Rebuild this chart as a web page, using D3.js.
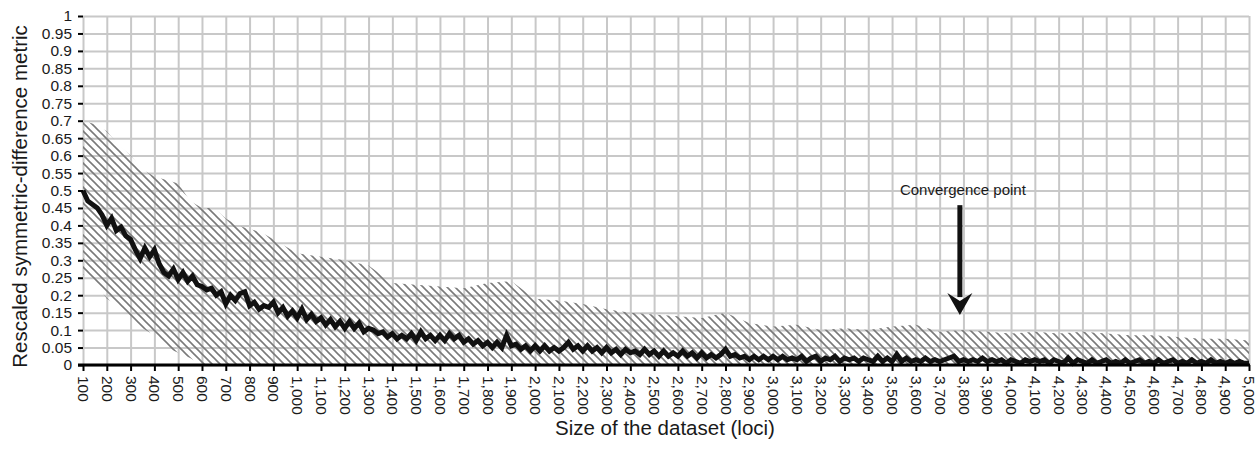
<!DOCTYPE html>
<html lang="en">
<head>
<meta charset="UTF-8">
<title>Convergence</title>
<script src="https://d3js.org/d3.v7.min.js"></script>
<style>
  body { margin: 0; background: #fff; }
  svg { font-family: "Liberation Sans", Arial, sans-serif; }
  .grid .tick line { stroke: #c8c8c8; stroke-width: 2; }
  .grid path { stroke-width: 0; }
</style>
</head>
<body>
<script>
// mean metric, one value every 20 loci starting at 100
var metricStart = 100, metricStep = 20;
var metric = [
  0.50, 0.47, 0.46, 0.45, 0.43, 0.40, 0.42, 0.385, 0.395, 0.37, 0.36,
  0.33, 0.305, 0.335, 0.31, 0.33, 0.29, 0.265, 0.255, 0.275, 0.245,
  0.265, 0.24, 0.255, 0.23, 0.225, 0.215, 0.22, 0.2, 0.21, 0.175,
  0.2, 0.185, 0.205, 0.21, 0.17, 0.18, 0.16, 0.17, 0.165, 0.18,
  0.15, 0.165, 0.14, 0.155, 0.135, 0.16, 0.13, 0.145, 0.125, 0.135,
  0.115, 0.13, 0.11, 0.125, 0.105, 0.125, 0.105, 0.12, 0.095, 0.105,
  0.10, 0.09, 0.095, 0.08, 0.09, 0.075, 0.085, 0.075, 0.09, 0.07,
  0.095, 0.075, 0.085, 0.07, 0.085, 0.07, 0.09, 0.075, 0.085, 0.065,
  0.075, 0.06, 0.07, 0.055, 0.065, 0.05, 0.065, 0.05, 0.085, 0.055,
  0.06, 0.045, 0.055, 0.04, 0.055, 0.04, 0.055, 0.04, 0.05, 0.04,
  0.05, 0.065, 0.045, 0.055, 0.04, 0.055, 0.04, 0.05, 0.035, 0.05,
  0.035, 0.045, 0.03, 0.045, 0.035, 0.04, 0.03, 0.045, 0.03, 0.04,
  0.025, 0.04, 0.025, 0.035, 0.025, 0.04, 0.025, 0.035, 0.02, 0.035,
  0.02, 0.03, 0.02, 0.03, 0.045, 0.025, 0.03, 0.02, 0.025, 0.015,
  0.025, 0.015, 0.025, 0.015, 0.025, 0.015, 0.025, 0.015, 0.02, 0.015,
  0.025, 0.01, 0.02, 0.025, 0.01, 0.02, 0.015, 0.025, 0.01, 0.02,
  0.015, 0.02, 0.01, 0.02, 0.015, 0.01, 0.025, 0.01, 0.02, 0.01,
  0.03, 0.01, 0.02, 0.01, 0.015, 0.01, 0.02, 0.01, 0.015, 0.01,
  0.015, 0.02, 0.025, 0.01, 0.015, 0.01, 0.015, 0.01, 0.02, 0.01,
  0.015, 0.01, 0.015, 0.005, 0.015, 0.01, 0.005, 0.015, 0.01, 0.015,
  0.01, 0.015, 0.005, 0.015, 0.01, 0.005, 0.02, 0.005, 0.015, 0.01,
  0.005, 0.015, 0.005, 0.01, 0.015, 0.005, 0.01, 0.005, 0.015, 0.005,
  0.01, 0.015, 0.005, 0.01, 0.005, 0.015, 0.005, 0.01, 0.015, 0.005,
  0.01, 0.005, 0.015, 0.005, 0.01, 0.005, 0.015, 0.005, 0.01, 0.005,
  0.01, 0.005, 0.01, 0.005, 0.005
];

// spread of the metric (hatched band)
var bandLoci = [100, 150, 200, 250, 300, 350, 400, 450, 500, 550, 600, 650, 700, 750, 800,
  850, 900, 950, 1000, 1100, 1200, 1300, 1350, 1400, 1500, 1600, 1700, 1800, 1900, 2000,
  2100, 2200, 2300, 2400, 2500, 2600, 2700, 2800, 2900, 3000, 3100, 3200, 3300, 3400, 3500,
  3600, 3700, 3800, 3900, 4000, 4100, 4200, 4300, 4400, 4500, 4600, 4700, 4800, 4900, 5000];
var bandUpper = [0.70, 0.69, 0.67, 0.63, 0.60, 0.56, 0.54, 0.53, 0.52, 0.47, 0.45, 0.45, 0.42, 0.40, 0.39,
  0.38, 0.36, 0.34, 0.32, 0.31, 0.30, 0.285, 0.26, 0.235, 0.23, 0.225, 0.22, 0.235, 0.24, 0.19,
  0.185, 0.175, 0.16, 0.15, 0.145, 0.14, 0.135, 0.15, 0.12, 0.11, 0.115, 0.10, 0.105, 0.10, 0.11,
  0.115, 0.095, 0.10, 0.095, 0.09, 0.095, 0.09, 0.095, 0.09, 0.085, 0.085, 0.08, 0.075, 0.075, 0.07];
var bandLower = [0.26, 0.24, 0.19, 0.17, 0.14, 0.105, 0.085, 0.05, 0.035, 0.02, 0, 0, 0, 0, 0,
  0, 0, 0, 0, 0, 0, 0, 0, 0, 0, 0, 0, 0, 0, 0,
  0, 0, 0, 0, 0, 0, 0, 0, 0, 0, 0, 0, 0, 0, 0,
  0, 0, 0, 0, 0, 0, 0, 0, 0, 0, 0, 0, 0, 0, 0];

var xTicks = d3.range(100, 5001, 100);
var yTicks = d3.range(0, 21).map(function(i) { return i * 0.05; });
var note = {text: "Convergence point", loci: 3785, top: 0.458, tip: 0.143, label: 0.487};

var W = 1257, H = 449;
var x = d3.scaleLinear().domain([100, 5000]).range([83, 1249]);
var y = d3.scaleLinear().domain([0, 1]).range([365, 16]);

var svg = d3.select("body").append("svg").attr("width", W).attr("height", H);
svg.append("rect").attr("width", W).attr("height", H).attr("fill", "#fff");

var defs = svg.append("defs");
var pat = defs.append("pattern").attr("id", "hatch")
  .attr("patternUnits", "userSpaceOnUse").attr("width", 8).attr("height", 8);
pat.append("path").attr("d", "M0,0L8,8M-4,4L4,12M4,-4L12,4")
  .attr("stroke", "#7a7a7a").attr("stroke-width", 1.6);

// grid
svg.append("g").attr("class", "grid")
  .attr("transform", "translate(83,0)")
  .call(d3.axisLeft(y).tickValues(yTicks).tickSize(-(1249 - 83)).tickFormat(""));
svg.append("g").attr("class", "grid")
  .attr("transform", "translate(0,365)")
  .call(d3.axisBottom(x).tickValues(xTicks).tickSize(-(365 - 16)).tickFormat(""));

// band
var band = bandLoci.map(function(d, i) { return {l: d, hi: bandUpper[i], lo: bandLower[i]}; });
svg.append("path").datum(band)
  .attr("fill", "url(#hatch)")
  .attr("d", d3.area()
    .x(function(d) { return x(d.l); })
    .y0(function(d) { return y(d.lo); })
    .y1(function(d) { return y(d.hi); }));

// mean line
var pts = metric.map(function(v, i) { return {l: metricStart + i * metricStep, v: v}; });
svg.append("path").datum(pts)
  .attr("fill", "none").attr("stroke", "#111").attr("stroke-width", 5)
  .attr("stroke-linejoin", "miter")
  .attr("d", d3.line().x(function(d) { return x(d.l); }).y(function(d) { return y(d.v); }));

// axes
function styleAxis(g) {
  g.select(".domain").remove();
  g.selectAll(".tick line").attr("stroke", "#000").attr("stroke-width", 2);
  g.selectAll(".tick text")
    .attr("fill", "#1a1a1a")
    .style("font-size", "15.5px")
    .style("font-family", "'Liberation Sans', Arial, sans-serif");
}

svg.append("g")
  .attr("transform", "translate(83,0)")
  .call(d3.axisLeft(y).tickValues(yTicks).tickSize(5).tickPadding(6)
    .tickFormat(function(d) { return +d.toFixed(2); }))
  .call(styleAxis);

var xa = svg.append("g")
  .attr("transform", "translate(0,365)")
  .call(d3.axisBottom(x).tickValues(xTicks).tickSize(6).tickFormat(d3.format(",")))
  .call(styleAxis);
xa.selectAll("text")
  .attr("transform", "rotate(90)")
  .attr("x", 11).attr("y", 0).attr("dy", "0.35em")
  .style("text-anchor", "start");

svg.append("line")
  .attr("x1", 78).attr("x2", 1250).attr("y1", y(0)).attr("y2", y(0))
  .attr("stroke", "#000").attr("stroke-width", 3);

// titles
svg.append("text")
  .attr("transform", "translate(27," + ((16 + 365) / 2 + 6) + ") rotate(-90)")
  .attr("text-anchor", "middle").style("font-size", "20.5px").attr("fill", "#1a1a1a")
  .text("Rescaled symmetric-difference metric");
svg.append("text")
  .attr("x", 665).attr("y", 435)
  .attr("text-anchor", "middle").style("font-size", "20.5px").attr("fill", "#1a1a1a")
  .text("Size of the dataset (loci)");

// annotation
var ax = x(note.loci);
svg.append("text")
  .attr("x", ax + 3).attr("y", y(note.label))
  .attr("text-anchor", "middle").style("font-size", "15px").attr("fill", "#1a1a1a")
  .text(note.text);
svg.append("line")
  .attr("x1", ax).attr("x2", ax).attr("y1", y(note.top)).attr("y2", y(note.tip) - 18)
  .attr("stroke", "#111").attr("stroke-width", 5);
svg.append("path")
  .attr("d", "M" + (ax - 12.5) + "," + (y(note.tip) - 22) + "L" + ax + "," + y(note.tip) +
    "L" + (ax + 12.5) + "," + (y(note.tip) - 22) + "L" + ax + "," + (y(note.tip) - 14) + "Z")
  .attr("fill", "#111");
</script>
</body>
</html>
